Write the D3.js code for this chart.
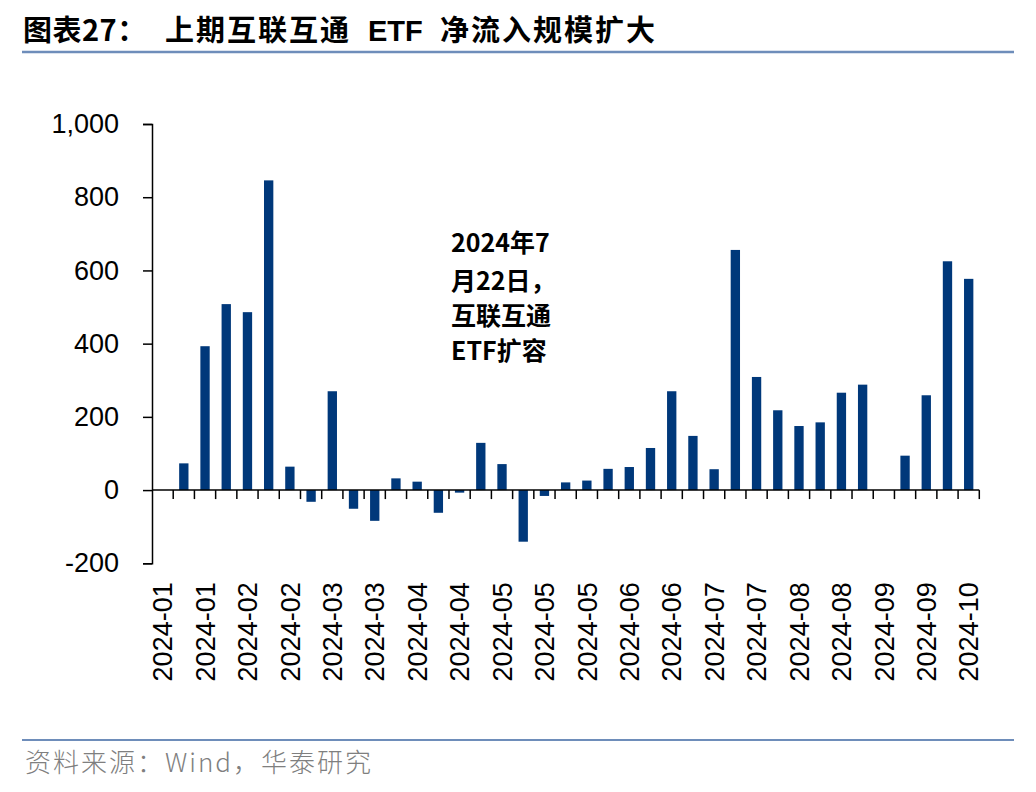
<!DOCTYPE html>
<html>
<head>
<meta charset="utf-8">
<script src="https://cdn.jsdelivr.net/npm/d3@7"></script>
<style>
  html, body { margin: 0; padding: 0; background: #ffffff; }
  svg { display: block; }
</style>
</head>
<body>
<svg id="chart" width="1036" height="792"></svg>
<script>
// ---- data (weekly net inflow) ----
const weekMonths = [
  "2024-01","2024-01","2024-01","2024-02","2024-02","2024-02","2024-02","2024-03","2024-03","2024-03",
  "2024-03","2024-04","2024-04","2024-04","2024-04","2024-05","2024-05","2024-05","2024-05","2024-05",
  "2024-05","2024-06","2024-06","2024-06","2024-06","2024-07","2024-07","2024-07","2024-07","2024-08",
  "2024-08","2024-08","2024-08","2024-09","2024-09","2024-09","2024-09","2024-10","2024-10"
];
const netInflow = [
  null, 73, 393, 508, 486, 846, 64, -32, 270, -51,
  -84, 32, 23, -62, -7, 129, 71, -141, -16, 21,
  26, 58, 63, 115, 270, 148, 57, 656, 309, 218,
  175, 185, 266, 288, null, 94, 259, 625, 577
];
const yTicks = [-200, 0, 200, 400, 600, 800, 1000];
const titleParts = ["图表27：", "上期互联互通", "ETF", "净流入规模扩大"];
const noteLines = ["2024年7", "月22日，", "互联互通", "ETF扩容"];
const sourceText = "资料来源：Wind，华泰研究";

// ---- layout ----
const svg = d3.select("#chart");
const plot = { left: 152, right: 979.3, top: 124, bottom: 563.3 };
const barColor = "#00387A";
const latin = "'Liberation Sans', Arial, sans-serif";
const cjk = "'Noto Sans CJK SC', 'Noto Sans', sans-serif";

const idx = weekMonths.map((d, i) => i);
const x = d3.scaleBand().domain(idx).range([plot.left, plot.right])
  .paddingInner(0.56).paddingOuter(0.28);
const y = d3.scaleLinear().domain([-200, 1000]).range([plot.bottom, plot.top]);

// title
const title = svg.append("text").attr("y", 41)
  .attr("font-family", cjk).attr("font-weight", 700).attr("font-size", 29).attr("fill", "#000");
const titleX = [23, 165, 368, 440];
titleParts.forEach((t, i) => {
  title.append("tspan").attr("x", titleX[i]).text(t)
    .attr("letter-spacing", i === 2 ? 0 : (i === 0 ? 0.5 : 2))
    .attr("font-family", i === 2 ? latin : cjk);
});
svg.append("line").attr("x1", 22).attr("x2", 1014).attr("y1", 52).attr("y2", 52)
  .attr("stroke", "#6E8DBA").attr("stroke-width", 2.5);

// bars
svg.append("g").selectAll("rect")
  .data(netInflow.map((v, i) => ({ i, v })).filter(d => d.v !== null))
  .join("rect")
  .attr("x", d => x(d.i))
  .attr("width", x.bandwidth())
  .attr("y", d => y(Math.max(0, d.v)))
  .attr("height", d => Math.abs(y(d.v) - y(0)))
  .attr("fill", barColor);

// y axis
const fmt = d3.format(",");
const yAxis = d3.axisLeft(y).tickValues(yTicks).tickSize(9).tickPadding(24)
  .tickFormat(d => fmt(d).replace("\u2212", "-"));
const gy = svg.append("g").attr("transform", `translate(${plot.left},0)`).call(yAxis);
gy.select(".domain").attr("stroke", "#000").attr("stroke-width", 1.5);
gy.selectAll(".tick line").attr("stroke", "#000").attr("stroke-width", 1.5);
gy.selectAll(".tick text").attr("font-family", latin).attr("font-size", 27).attr("fill", "#000");

// zero line with boundary ticks
const step = x.step();
const boundaries = idx.map(i => x(i) - x.paddingInner() * step / 2 + step).filter(b => b <= plot.right + 0.5);
const gz = svg.append("g");
gz.append("line").attr("x1", plot.left).attr("x2", plot.right)
  .attr("y1", y(0)).attr("y2", y(0)).attr("stroke", "#000").attr("stroke-width", 1.5);
gz.selectAll("line.t").data(boundaries).join("line").attr("class", "t")
  .attr("x1", d => d).attr("x2", d => d)
  .attr("y1", y(0)).attr("y2", y(0) + 9)
  .attr("stroke", "#000").attr("stroke-width", 1.5);

// x labels (every second week) at the bottom
const xAxis = d3.axisBottom(x).tickValues(idx.filter(i => i % 2 === 0))
  .tickSize(0).tickFormat(i => weekMonths[i]);
const gx = svg.append("g").attr("transform", `translate(0,${plot.bottom})`).call(xAxis);
gx.select(".domain").remove();
gx.selectAll(".tick text")
  .attr("font-family", latin).attr("font-size", 27).attr("fill", "#000")
  .attr("text-anchor", "end")
  .attr("transform", "translate(0,19) rotate(-90)")
  .attr("x", 0).attr("y", 0).attr("dy", "0.36em");

// annotation
const note = svg.append("text").attr("font-family", cjk).attr("font-weight", 700)
  .attr("font-size", 25).attr("fill", "#000");
const noteY = [252, 290, 325, 360];
noteLines.forEach((t, i) => note.append("tspan").attr("x", 451).attr("y", noteY[i]).text(t));

// footer
svg.append("line").attr("x1", 22).attr("x2", 1014).attr("y1", 740).attr("y2", 740)
  .attr("stroke", "#6E8DBA").attr("stroke-width", 2);
svg.append("text").attr("x", 25).attr("y", 772)
  .attr("font-family", cjk).attr("font-size", 26).attr("font-weight", 300)
  .attr("fill", "#7F7F7F").attr("letter-spacing", 2).text(sourceText);
</script>
</body>
</html>
